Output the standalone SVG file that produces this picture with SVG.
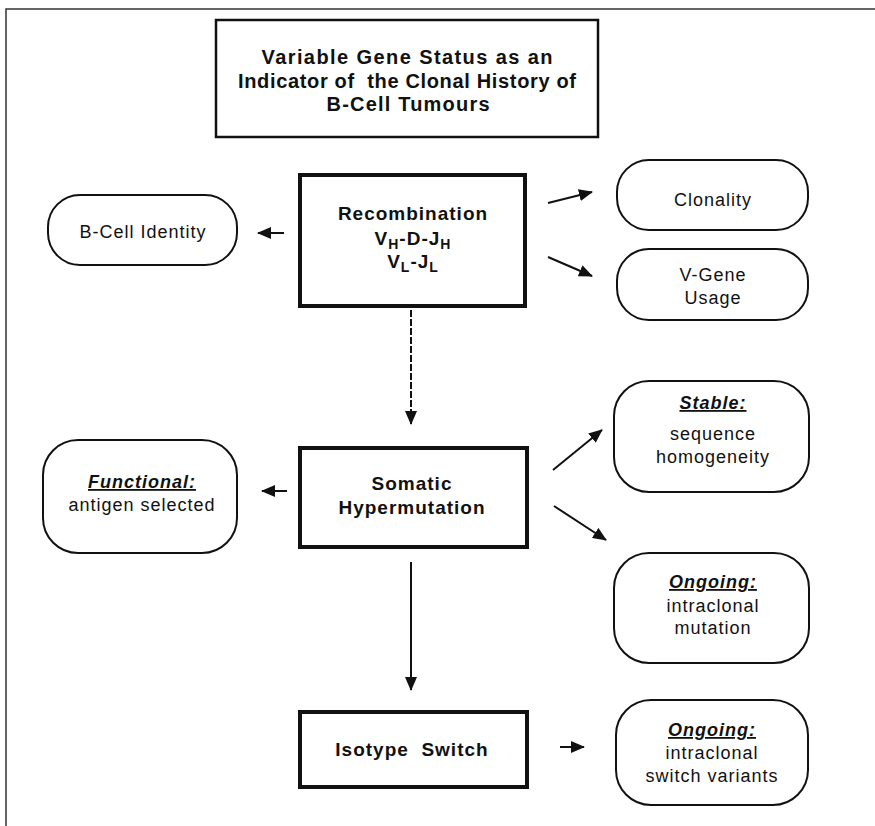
<svg xmlns="http://www.w3.org/2000/svg" width="875" height="826" viewBox="0 0 875 826">
<style>
.bg{fill:#fff}
.frame{fill:none;stroke:#333;stroke-width:1.5}
.tbox{fill:#fff;stroke:#111;stroke-width:2.5}
.mbox{fill:#fff;stroke:#111;stroke-width:4}
.rbox{fill:#fff;stroke:#111;stroke-width:2}
.title{font-family:"Liberation Sans",Arial,sans-serif;font-weight:bold;font-size:20px;fill:#111;text-anchor:middle;white-space:pre}
.bt{font-family:"Liberation Sans",Arial,sans-serif;font-weight:bold;font-size:19px;letter-spacing:1px;fill:#111;text-anchor:middle;white-space:pre}
.nt{font-family:"Liberation Sans",Arial,sans-serif;font-size:18px;letter-spacing:1px;fill:#111;text-anchor:middle}
.hd{font-weight:bold;font-style:italic;text-decoration:underline}
.sub{font-size:14px}
.conn{stroke:#111;stroke-width:2;fill:none}
.dash{stroke-dasharray:7 2}
</style>
<defs>
<marker id="ah" viewBox="0 0 14 12" refX="13" refY="6" markerWidth="14" markerHeight="12" markerUnits="userSpaceOnUse" orient="auto">
<path d="M0,0 L14,6 L0,12 z" fill="#111"/>
</marker>
</defs>
<rect class="bg" x="0" y="0" width="875" height="826"/>
<path class="frame" d="M6,826 V9 H875"/>

<g id="title">
<rect class="tbox" x="216" y="20" width="382" height="117"/>
<text class="title" x="407" y="64" textLength="291" lengthAdjust="spacing">Variable Gene Status as an</text>
<text class="title" x="407" y="88" textLength="338" lengthAdjust="spacing">Indicator of  the Clonal History of</text>
<text class="title" x="408" y="111" textLength="163" lengthAdjust="spacing">B-Cell Tumours</text>
</g>

<g id="recombination">
<rect class="mbox" x="300" y="175" width="225" height="131"/>
<text class="bt" x="413" y="220">Recombination</text>
<text class="bt" x="413" y="245">V<tspan class="sub" dy="4">H</tspan><tspan dy="-4">-D-J</tspan><tspan class="sub" dy="4">H</tspan></text>
<text class="bt" x="413" y="268">V<tspan class="sub" dy="4">L</tspan><tspan dy="-4">-J</tspan><tspan class="sub" dy="4">L</tspan></text>
</g>

<g id="bcell">
<rect class="rbox" x="48" y="195" width="189" height="70" rx="32"/>
<text class="nt" x="143" y="238">B-Cell Identity</text>
</g>

<g id="clonality">
<rect class="rbox" x="617" y="160" width="191" height="70" rx="32"/>
<text class="nt" x="713" y="206">Clonality</text>
</g>

<g id="vgene">
<rect class="rbox" x="617" y="249" width="191" height="71" rx="32"/>
<text class="nt" x="713" y="281">V-Gene</text>
<text class="nt" x="713" y="304">Usage</text>
</g>

<g id="somatic">
<rect class="mbox" x="300" y="448" width="227" height="99"/>
<text class="bt" x="412" y="490">Somatic</text>
<text class="bt" x="412" y="514">Hypermutation</text>
</g>

<g id="functional">
<rect class="rbox" x="43" y="440" width="194" height="113" rx="35"/>
<text class="nt hd" x="142" y="488">Functional:</text>
<text class="nt" x="142" y="511">antigen selected</text>
</g>

<g id="stable">
<rect class="rbox" x="614" y="381" width="195" height="111" rx="35"/>
<text class="nt hd" x="713" y="409">Stable:</text>
<text class="nt" x="713" y="440">sequence</text>
<text class="nt" x="713" y="463">homogeneity</text>
</g>

<g id="ongoing-mutation">
<rect class="rbox" x="614" y="553" width="195" height="110" rx="35"/>
<text class="nt hd" x="713" y="588">Ongoing:</text>
<text class="nt" x="713" y="612">intraclonal</text>
<text class="nt" x="713" y="634">mutation</text>
</g>

<g id="isotype">
<rect class="mbox" x="300" y="712" width="227" height="75"/>
<text class="bt" x="412" y="756">Isotype  Switch</text>
</g>

<g id="ongoing-switch">
<rect class="rbox" x="616" y="700" width="192" height="105" rx="35"/>
<text class="nt hd" x="712" y="736">Ongoing:</text>
<text class="nt" x="712" y="759">intraclonal</text>
<text class="nt" x="712" y="782">switch variants</text>
</g>

<g id="connectors">
<line class="conn" x1="284" y1="233" x2="258" y2="233" marker-end="url(#ah)"/>
<line class="conn" x1="548" y1="203" x2="592" y2="192" marker-end="url(#ah)"/>
<line class="conn" x1="548" y1="257" x2="592" y2="276" marker-end="url(#ah)"/>
<line class="conn dash" x1="411" y1="310" x2="411" y2="424" marker-end="url(#ah)"/>
<line class="conn" x1="287" y1="491" x2="262" y2="491" marker-end="url(#ah)"/>
<line class="conn" x1="553" y1="470" x2="602" y2="430" marker-end="url(#ah)"/>
<line class="conn" x1="554" y1="506" x2="606" y2="540" marker-end="url(#ah)"/>
<line class="conn" x1="411" y1="562" x2="411" y2="690" marker-end="url(#ah)"/>
<line class="conn" x1="560" y1="747" x2="584" y2="747" marker-end="url(#ah)"/>
</g>
</svg>
